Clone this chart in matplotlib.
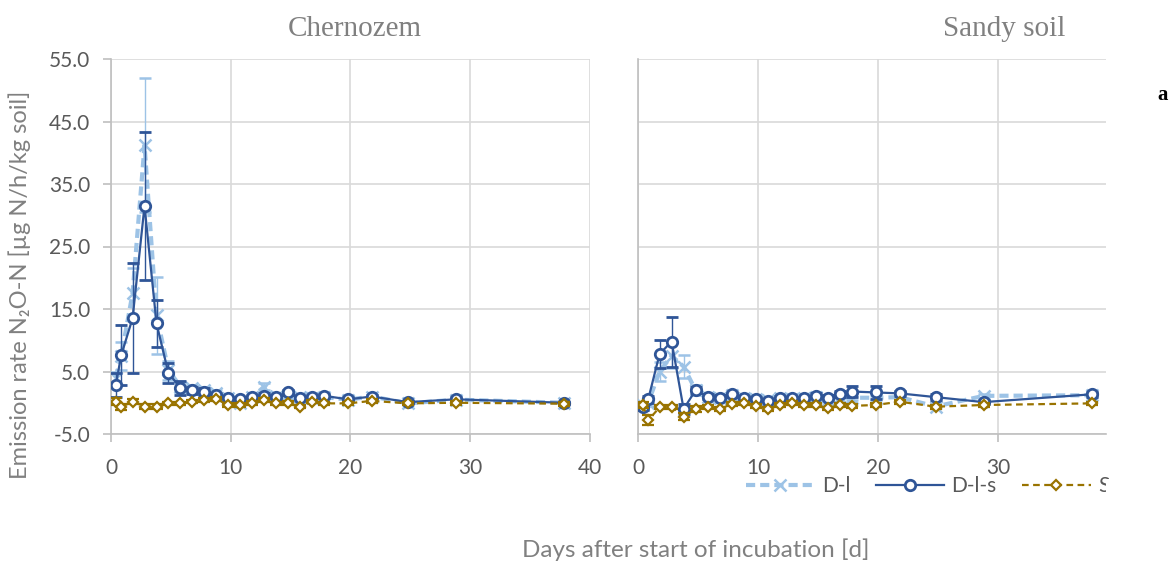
import matplotlib
matplotlib.use("Agg")
import matplotlib.pyplot as plt
from matplotlib.patches import Rectangle

# ---------------- data ----------------
days = [0.4, 0.85, 1.8, 2.8, 3.8, 4.8, 5.8, 6.8, 7.8, 8.8, 9.8, 10.8, 11.8,
        12.8, 13.8, 14.8, 15.8, 16.8, 17.8, 19.8, 21.8, 24.8, 28.8, 37.8]

# Chernozem
chern_dl = [4.0, 7.5, 17.5, 41.2, 14.0, 5.2, 2.6, 2.3, 2.0, 1.6, 0.8, 0.0, 0.9,
            2.6, 1.0, 1.3, 1.0, 0.8, 0.9, 0.5, 1.0, -0.1, 0.5, 0.0]
chern_dl_err = [1.0, 2.3, 4.0, 10.7, 6.2, 1.5, 0.8, 0.5, 0.5, 0.4, 0.3, 0.3, 0.3,
                0.6, 0.3, 0.3, 0.3, 0.3, 0.3, 0.3, 0.3, 0.2, 0.2, 0.2]
chern_dls = [2.8, 7.6, 13.5, 31.5, 12.7, 4.7, 2.4, 2.0, 1.8, 1.2, 0.7, 0.6, 1.0,
             1.1, 0.9, 1.7, 0.7, 1.0, 1.1, 0.55, 1.0, 0.1, 0.55, 0.0]
chern_dls_err = [1.9, 4.8, 8.8, 11.9, 3.7, 1.6, 1.1, 0.6, 0.5, 0.4, 0.3, 0.3, 0.3,
                 0.4, 0.3, 0.4, 0.3, 0.3, 0.3, 0.3, 0.3, 0.2, 0.3, 0.2]
chern_s = [0.2, -0.7, 0.2, -0.6, -0.6, -0.1, -0.1, 0.2, 0.4, 0.6, -0.4, -0.4, 0.0,
           0.4, -0.1, 0.0, -0.6, 0.2, -0.1, -0.1, 0.3, -0.1, 0.0, -0.15]
chern_s_err = [0.6, 0.5, 0.4, 0.4, 0.4, 0.3, 0.3, 0.3, 0.3, 0.3, 0.3, 0.3, 0.3,
               0.3, 0.3, 0.3, 0.3, 0.3, 0.3, 0.3, 0.3, 0.3, 0.3, 0.3]

# Sandy soil
sandy_dl = [-0.3, 0.0, 5.0, 7.5, 5.8, 2.0, 1.0, 0.8, 1.2, 0.8, 0.6, 0.4, 0.8,
            0.6, 0.8, 0.9, 0.5, 1.0, 0.8, 0.8, 0.9, -0.6, 1.1, 1.2]
sandy_dl_err = [0.5, 0.5, 1.5, 2.0, 1.8, 0.8, 0.4, 0.3, 0.3, 0.3, 0.3, 0.3, 0.3,
                0.3, 0.3, 0.3, 0.3, 0.3, 0.3, 0.3, 0.3, 0.3, 0.3, 0.3]
sandy_dls = [-0.6, 0.55, 7.8, 9.8, -1.0, 2.0, 1.0, 0.8, 1.35, 0.8, 0.55, 0.35, 0.8,
             0.7, 0.7, 1.1, 0.8, 1.4, 1.8, 1.65, 1.5, 0.9, 0.1, 1.35]
sandy_dls_err = [0.5, 0.6, 2.2, 4.0, 0.8, 0.5, 0.4, 0.4, 0.4, 0.3, 0.3, 0.3, 0.3,
                 0.3, 0.3, 0.4, 0.4, 0.5, 0.9, 1.0, 0.4, 0.5, 0.3, 0.4]
sandy_s = [-0.36, -2.8, -0.73, -0.63, -2.2, -1.0, -0.73, -1.0, -0.25, -0.1, -0.5, -1.0, -0.36,
           0.0, -0.36, -0.36, -0.9, -0.36, -0.5, -0.36, 0.17, -0.63, -0.36, -0.1]
sandy_s_err = [0.5, 0.8, 0.3, 0.3, 0.5, 0.5, 0.3, 0.3, 0.3, 0.3, 0.3, 0.3, 0.3,
               0.3, 0.3, 0.3, 0.3, 0.3, 0.3, 0.3, 0.3, 0.3, 0.3, 0.3]

series_labels = ["D-l", "D-l-s", "S"]
panel_titles = ["Chernozem", "Sandy soil"]
y_ticks = [-5.0, 5.0, 15.0, 25.0, 35.0, 45.0, 55.0]
left_xticks = [0, 10, 20, 30, 40]
right_xticks = [0, 10, 20, 30]

# ---------------- style ----------------
C_LIGHT = "#9dc3e6"
C_DARK = "#2f5597"
C_BROWN = "#997300"
GRID = "#d9d9d9"
SPINE = "#bfbfbf"
TICKTXT = "#595959"
FONT = ["Lato", "DejaVu Sans"]

plt.rcParams["font.family"] = FONT

W, H = 1175, 563
fig = plt.figure(figsize=(W / 100, H / 100), dpi=100)

def px_axes(x0, x1, y0, y1):
    return fig.add_axes([x0 / W, 1 - y1 / H, (x1 - x0) / W, (y1 - y0) / H])

axL = px_axes(111, 590, 59, 434)
axR = px_axes(638, 1106, 59, 434)

def draw(ax, dl, dle, dls, dlse, s, se):
    h1 = ax.errorbar(days, dl, yerr=dle, color=C_LIGHT, ls=(0, (2.2, 1.2)), lw=3,
                     marker="x", ms=9, mew=1.8, ecolor=C_LIGHT, elinewidth=1,
                     capsize=4, capthick=1, zorder=3)
    h2 = ax.errorbar(days, dls, yerr=dlse, color=C_DARK, ls="-", lw=1.6,
                     marker="o", ms=7.5, mfc="white", mec=C_DARK, mew=2,
                     ecolor=C_DARK, elinewidth=1, capsize=4, capthick=1, zorder=4)
    h3 = ax.errorbar(days, s, yerr=se, color=C_BROWN, ls=(0, (3, 2)), lw=1.6,
                     marker="D", ms=5, mfc="white", mec=C_BROWN, mew=1.6,
                     ecolor=C_BROWN, elinewidth=1, capsize=4, capthick=1, zorder=5)
    return h1[0], h2[0], h3[0]

handles = draw(axL, chern_dl, chern_dl_err, chern_dls, chern_dls_err, chern_s, chern_s_err)
draw(axR, sandy_dl, sandy_dl_err, sandy_dls, sandy_dls_err, sandy_s, sandy_s_err)

for ax, xt, xmax in ((axL, left_xticks, 40), (axR, right_xticks, 39)):
    ax.set_xlim(0, xmax)
    ax.set_ylim(-5, 55)
    ax.set_xticks(xt)
    ax.set_xticklabels([str(v) for v in xt])
    ax.set_yticks(y_ticks)
    ax.grid(True, color=GRID, lw=1.2)
    ax.set_axisbelow(True)
    for side in ("top", "right"):
        ax.spines[side].set_visible(False)
    for side in ("left", "bottom"):
        ax.spines[side].set_color(SPINE)
        ax.spines[side].set_linewidth(1.2)
    ax.tick_params(axis="x", colors=SPINE, labelcolor=TICKTXT, labelsize=15,
                   length=6, width=1.2, pad=11)
    ax.tick_params(axis="y", colors=SPINE, labelcolor=TICKTXT, labelsize=15,
                   length=6, width=1.2, pad=9)

axL.set_yticklabels([f"{v:.1f}" for v in y_ticks])
axR.tick_params(axis="y", length=0, labelleft=False)

# titles
fig.text(355 / W, 1 - 29 / H, panel_titles[0], ha="center", va="center",
         family="Liberation Serif", fontsize=21, color="#808080")
fig.text(1004 / W, 1 - 29 / H, panel_titles[1], ha="center", va="center",
         family="Liberation Serif", fontsize=21, color="#808080")
fig.text(1163 / W, 1 - 95 / H, "a", ha="center", va="center",
         family="Liberation Serif", fontsize=15, fontweight="bold", color="black")

# axis labels
fig.text(20 / W, 1 - 285 / H, "Emission rate N\u2082O-N [\u00b5g N/h/kg soil]",
         rotation=90, ha="center", va="center", fontsize=17, color="#808080",
         family=FONT)
fig.text(696 / W, 1 - 550 / H, "Days after start of incubation [d]",
         ha="center", va="center", fontsize=17.5, color="#808080", family=FONT)

# legend
leg = fig.legend(handles, series_labels, loc="center left",
                 bbox_to_anchor=(746 / W, 1 - 486.5 / H), ncol=3, frameon=False,
                 fontsize=15, handlelength=3.3, handletextpad=0.35,
                 columnspacing=1.2, borderpad=0, borderaxespad=0)
for t in leg.get_texts():
    t.set_color(TICKTXT)

# the reference chart is cut off on the right at the legend row
fig.add_artist(Rectangle((1106 / W, 0.08), (W - 1106) / W, 0.07,
                         transform=fig.transFigure, facecolor="white",
                         edgecolor="none", zorder=20))

fig.savefig("out.png", dpi=100, facecolor="white")
